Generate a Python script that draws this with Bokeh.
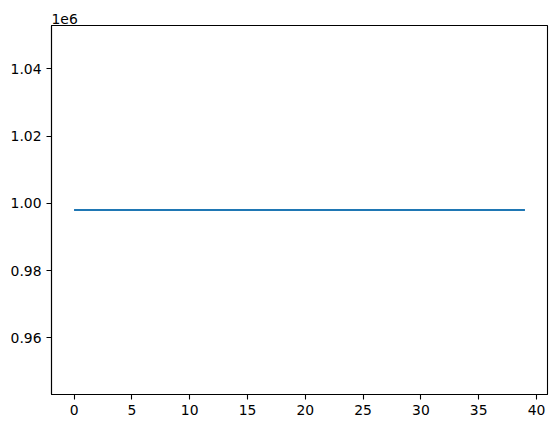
from bokeh.plotting import figure
from bokeh.models import FixedTicker, CustomJSTickFormatter, Range1d
from bokeh.embed import file_html
from bokeh.resources import INLINE

# Data
x_values = list(range(40))
y_values = [998000, 998000, 998000, 998000, 998000, 998000, 998000, 998000,
            998000, 998000, 998000, 998000, 998000, 998000, 998000, 998000,
            998000, 998000, 998000, 998000, 998000, 998000, 998000, 998000,
            998000, 998000, 998000, 998000, 998000, 998000, 998000, 998000,
            998000, 998000, 998000, 998000, 998000, 998000, 998000, 998000]
x_ticks = [0, 5, 10, 15, 20, 25, 30, 35, 40]
y_ticks = [960000, 980000, 1000000, 1020000, 1040000]
y_scale_label = "1e6"

FONT = "DejaVu Sans"
FS = "13.9px"

x0, x1 = min(x_values), max(x_values)
xm = (x1 - x0) * 0.05
v = y_values[0]
ylo, yhi = v - 0.05 * abs(v), v + 0.05 * abs(v)
ym = (yhi - ylo) * 0.05

p = figure(frame_width=496, frame_height=369, output_backend="svg",
           toolbar_location=None, title=y_scale_label,
           x_range=Range1d(x0 - xm, x1 + xm), y_range=Range1d(ylo - ym, yhi + ym),
           min_border_left=51, min_border_top=25, min_border_right=8,
           min_border_bottom=30)

p.line(x_values, y_values, line_color="#1f77b4", line_width=2)

p.title.text_font = FONT
p.title.text_font_size = FS
p.title.text_font_style = "normal"
p.title.text_color = "black"
p.title.align = "left"
p.title.standoff = 4

p.xgrid.visible = False
p.ygrid.visible = False
p.outline_line_color = "black"
p.outline_line_width = 1.1

for ax in (p.xaxis[0], p.yaxis[0]):
    ax.axis_line_color = "black"
    ax.axis_line_width = 1.1
    ax.major_tick_in = 0
    ax.major_tick_out = 5
    ax.major_tick_line_width = 1.1
    ax.minor_tick_line_color = None
    ax.major_label_text_font = FONT
    ax.major_label_text_font_size = FS
    ax.major_label_text_color = "black"
    ax.major_label_standoff = 5

p.xaxis[0].ticker = FixedTicker(ticks=x_ticks)
p.yaxis[0].ticker = FixedTicker(ticks=y_ticks)
p.yaxis[0].formatter = CustomJSTickFormatter(code="return (tick/1e6).toFixed(2);")

open("out.html", "w").write(file_html(p, INLINE))
